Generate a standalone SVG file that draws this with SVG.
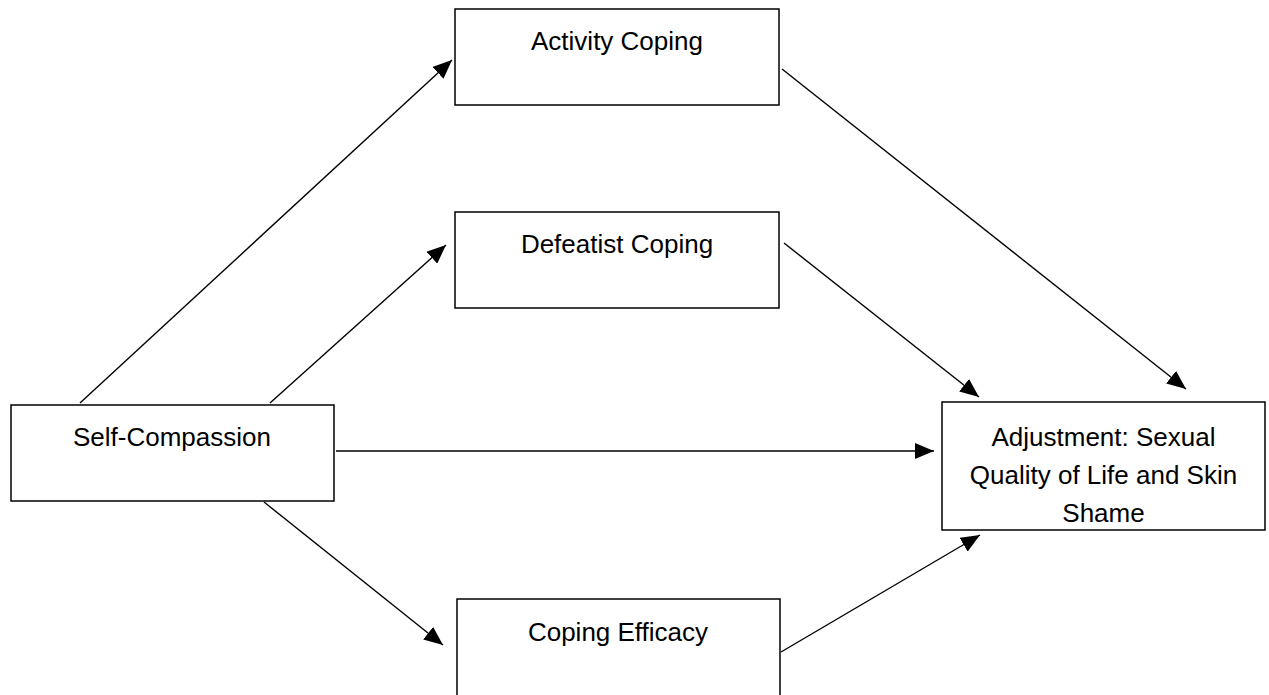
<svg xmlns="http://www.w3.org/2000/svg" width="1269" height="695" viewBox="0 0 1269 695">
<style>
.box{fill:#fff;stroke:#000;stroke-width:1.5}
.lbl{font-family:"Liberation Sans",Arial,sans-serif;font-size:26px;fill:#000;text-anchor:middle}
.conn{stroke:#000;stroke-width:1.4;fill:none;marker-end:url(#ah)}
</style>
<defs>
<marker id="ah" markerUnits="userSpaceOnUse" markerWidth="20" markerHeight="16" refX="19" refY="8" orient="auto">
<path d="M0,0 L19,8 L0,16 z" fill="#000"/>
</marker>
</defs>
<rect width="1269" height="695" fill="#fff"/>
<g id="connectors">
<line class="conn" x1="80" y1="403" x2="452" y2="60"/>
<line class="conn" x1="270" y1="403" x2="446" y2="245"/>
<line class="conn" x1="336" y1="451" x2="934" y2="451"/>
<line class="conn" x1="264" y1="502" x2="443" y2="645"/>
<line class="conn" x1="781" y1="652" x2="980" y2="535"/>
<line class="conn" x1="784" y1="243" x2="979" y2="397"/>
<line class="conn" x1="782" y1="69" x2="1186" y2="389"/>
</g>
<g id="activity-coping">
<rect class="box" x="455" y="9" width="324" height="96"/>
<text class="lbl" x="617" y="50">Activity Coping</text>
</g>
<g id="defeatist-coping">
<rect class="box" x="455" y="212" width="324" height="96"/>
<text class="lbl" x="617" y="253">Defeatist Coping</text>
</g>
<g id="self-compassion">
<rect class="box" x="11" y="405" width="323" height="96"/>
<text class="lbl" x="172" y="446">Self-Compassion</text>
</g>
<g id="adjustment">
<rect class="box" x="942" y="402" width="323" height="128"/>
<text class="lbl" x="1103.5" y="446">Adjustment: Sexual</text>
<text class="lbl" x="1103.5" y="484">Quality of Life and Skin</text>
<text class="lbl" x="1103.5" y="522">Shame</text>
</g>
<g id="coping-efficacy">
<rect class="box" x="457" y="599" width="323" height="110"/>
<text class="lbl" x="618" y="641">Coping Efficacy</text>
</g>
</svg>
